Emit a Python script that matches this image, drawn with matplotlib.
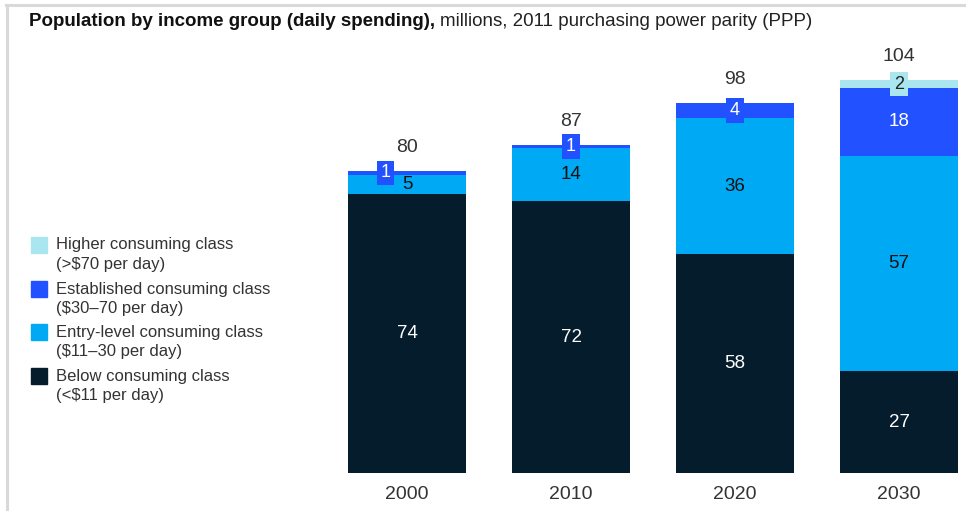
import matplotlib.pyplot as plt
from matplotlib.patches import Rectangle

# === Data ===
years = ["2000", "2010", "2020", "2030"]
below = [74, 72, 58, 27]
entry = [5, 14, 36, 57]
established = [1, 1, 4, 18]
higher = [0, 0, 0, 2]
totals = [80, 87, 98, 104]

series_names = [
    ("Higher consuming class", "(>$70 per day)"),
    ("Established consuming class", "($30\u201370 per day)"),
    ("Entry-level consuming class", "($11\u201330 per day)"),
    ("Below consuming class", "(<$11 per day)"),
]
colors = ["#AAE6F0", "#2251FF", "#00A9F4", "#051C2C"]
text_colors = ["#222222", "white", "#111111", "white"]

plt.rcParams['font.family'] = ['Liberation Sans', 'DejaVu Sans']

W, H = 966, 511
fig = plt.figure(figsize=(W / 100, H / 100), dpi=100)

# frame lines (top and left)
fig.add_artist(plt.Line2D([6 / W, 966 / W], [1 - 5.5 / H, 1 - 5.5 / H],
                          transform=fig.transFigure, color="#d9d9d9", lw=2.2))
fig.add_artist(plt.Line2D([6.5 / W, 6.5 / W], [0, 1 - 5.5 / H],
                          transform=fig.transFigure, color="#d9d9d9", lw=2.2))

# title: bold part then regular part right after it
t1 = fig.text(29 / W, 1 - 21 / H, "Population by income group (daily spending),",
              fontsize=13.5, fontweight="bold", va="center", ha="left", color="#111111")
renderer = fig.canvas.get_renderer()
bb = t1.get_window_extent(renderer)
fig.text((bb.x1 + 5) / W, 1 - 21 / H, "millions, 2011 purchasing power parity (PPP)",
         fontsize=13.5, va="center", ha="left", color="#222222")

# axes: baseline at y=473 px, 3.775 px per unit, bar spacing 164 px
ax_left, ax_right = 330, 966
ax_bottom, ax_top = 473, 40
ax = fig.add_axes([ax_left / W, 1 - ax_bottom / H, (ax_right - ax_left) / W,
                   (ax_bottom - ax_top) / H])
ax.set_xlim((ax_left - 407) / 164, (ax_right - 407) / 164)
ax.set_ylim(0, (ax_bottom - ax_top) / 3.775)
for s in ax.spines.values():
    s.set_visible(False)
ax.set_yticks([])
x = list(range(len(years)))
ax.set_xticks(x)
ax.set_xticklabels(years, fontsize=14, color="#333333")
ax.tick_params(axis="x", length=0, pad=9)

width = 0.72
stack = [below, entry, established, higher]
stack_colors = colors[::-1]
stack_text = text_colors[::-1]
bottoms = [0] * len(years)
for vals, c, tc in zip(stack, stack_colors, stack_text):
    ax.bar(x, vals, width, bottom=bottoms, color=c, edgecolor="none")
    for i, v in enumerate(vals):
        if v == 0:
            continue
        mid = bottoms[i] + v / 2
        if v <= 4:
            xi = i - 0.13 if i == 0 else i
            ax.text(xi, mid, str(v), ha="center", va="center", fontsize=13,
                    color=tc,
                    bbox=dict(boxstyle="square,pad=0.2", fc=c, ec="none"))
        else:
            ax.text(i, mid, str(v), ha="center", va="center", fontsize=13.5,
                    color=tc)
    bottoms = [b + v for b, v in zip(bottoms, vals)]

for i, t in enumerate(totals):
    ax.text(i, t + 6.2, str(t), ha="center", va="center", fontsize=14,
            color="#333333")

# legend
leg_y = [245, 289, 332, 376]
for (l1, l2), c, y in zip(series_names, colors, leg_y):
    fig.add_artist(Rectangle((31 / W, 1 - (y + 8) / H), 16 / W, 16 / H,
                             transform=fig.transFigure, color=c))
    fig.text(56 / W, 1 - y / H, l1, fontsize=12, va="center", ha="left",
             color="#333333")
    fig.text(56 / W, 1 - (y + 19) / H, l2, fontsize=12, va="center", ha="left",
             color="#333333")

fig.savefig("out.png", dpi=100)
